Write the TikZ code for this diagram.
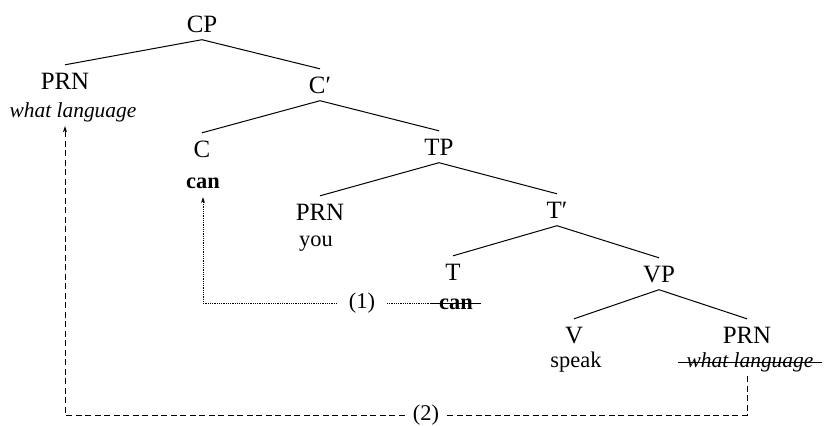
\documentclass[tikz,border=0pt]{standalone}
\usepackage{fontspec}
\setmainfont{Liberation Serif}
\usetikzlibrary{arrows.meta}
\begin{document}
\begin{tikzpicture}[x=1bp,y=-1bp,
  cat/.style={font=\fontsize{25}{25}\selectfont, inner xsep=2bp, inner ysep=7.5bp,
              text height=16.5bp, text depth=0pt, anchor=base},
  word/.style={font=\fontsize{22.5}{23}\selectfont, inner xsep=2bp, inner ysep=4bp,
               text height=11bp, text depth=5bp, anchor=base},
  itword/.style={word, font=\fontsize{21.5}{22}\selectfont\itshape},
  struck/.style={inner xsep=8bp},
  strikeline/.style={line width=0.9bp},
  label/.style={font=\fontsize{22.5}{23}\selectfont, inner ysep=0pt},
  branch/.style={line width=1bp},
  dotline/.style={line width=0.7bp, dash pattern=on 0.7bp off 1.1bp},
  dashline/.style={line width=0.9bp, dash pattern=on 6bp off 3.5bp},
  tip/.style={-{Stealth[length=6bp,width=4bp]}}
]
\useasboundingbox (0,0) rectangle (825,425);

% categories and words
\node[cat] (cp)   at (202,32)  {CP};
\node[cat] (prn1) at (65,89)   {PRN};
\node[itword] (wl1) at (73,117) {what language};
\node[cat] (cbar) at (320,93)  {C′};
\node[cat] (c)    at (202,157) {C};
\node[word] (can1) at (203,188) {\textbf{can}};
\node[cat] (tp)   at (439,155) {TP};
\node[cat] (prn2) at (320,220) {PRN};
\node[word] (you) at (316,246) {you};
\node[cat] (tbar) at (557,218) {T′};
\node[cat] (t)    at (453,280) {T};
\node[word,struck] (can2) at (456,309) {\textbf{can}};
\node[cat] (vp)   at (659,282) {VP};
\node[cat] (v)    at (574,343) {V};
\node[word] (speak) at (576,367) {speak};
\node[cat] (prn3) at (747,343) {PRN};
\node[itword,struck] (wl2) at (750,367) {what language};

% branches
\draw[branch] (cp.south) -- (prn1.north);
\draw[branch] (cp.south) -- (cbar.north);
\draw[branch] (cbar.south) -- (c.north);
\draw[branch] (cbar.south) -- (tp.north);
\draw[branch] (tp.south) -- (prn2.north);
\draw[branch] (tp.south) -- (tbar.north);
\draw[branch] (tbar.south) -- (t.north);
\draw[branch] (tbar.south) -- (vp.north);
\draw[branch] (vp.south) -- (v.north);
\draw[branch] (vp.south) -- (prn3.north);

% deleted copies
\draw[strikeline] ([yshift=5.5bp]can2.base west) -- ([yshift=5.5bp]can2.base east);
\draw[strikeline] ([yshift=4.5bp]wl2.base west) -- ([yshift=4.5bp]wl2.base east);

% movement (1): T to C
\node[label, inner xsep=12bp] (l1) at (362,303) {(1)};
\draw[dotline] (can2.west |- l1) -- (l1.east);
\draw[dotline,tip] (l1.west) -- (l1.west -| can1) -- (can1.south);

% movement (2): object to Spec-CP
\node[label, inner xsep=8bp] (l2) at (426,415) {(2)};
\draw[dashline] (prn3 |- wl2.south) -- (prn3 |- l2) -- (l2.east);
\draw[dashline,tip] (l2.west) -- (l2.west -| prn1) -- (prn1 |- wl1.south);
\end{tikzpicture}
\end{document}
